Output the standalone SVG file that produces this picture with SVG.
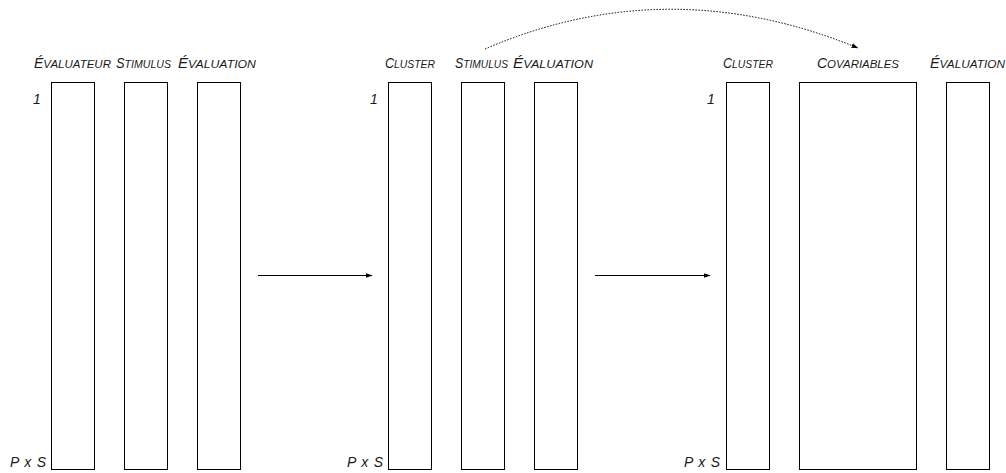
<svg xmlns="http://www.w3.org/2000/svg" width="1006" height="473" viewBox="0 0 1006 473">
<style>
.col{fill:#fff;stroke:#000;stroke-width:1}
.lbl{font-family:"Liberation Sans",Arial,sans-serif;font-style:italic;font-size:14px;fill:#1a1a1a}
.sc{font-size:11.5px}
.idx{font-family:"Liberation Sans",Arial,sans-serif;font-style:italic;font-size:14px;fill:#1a1a1a}
.arr{fill:none;stroke:#000;stroke-width:1}
.dot{fill:none;stroke:#000;stroke-width:1;stroke-dasharray:1.5 1.5}
</style>
<defs>
<marker id="ah" markerWidth="7" markerHeight="5" refX="6.5" refY="2.5" orient="auto" markerUnits="userSpaceOnUse">
<path d="M0,0 L7,2.5 L0,5 Z" fill="#000"/>
</marker>
</defs>
<rect width="1006" height="473" fill="#fff"/>
<g id="panel1">
<text class="idx" x="33" y="104">1</text>
<text class="idx" x="10" y="467" textLength="36" lengthAdjust="spacing">P x S</text>
<g id="p1-evaluateur"><rect class="col" x="51.5" y="82.5" width="43" height="387"/><text class="lbl" x="34" y="68" textLength="77" lengthAdjust="spacingAndGlyphs">É<tspan class="sc">VALUATEUR</tspan></text></g>
<g id="p1-stimulus"><rect class="col" x="124.5" y="82.5" width="43" height="387"/><text class="lbl" x="116" y="68" textLength="55" lengthAdjust="spacingAndGlyphs">S<tspan class="sc">TIMULUS</tspan></text></g>
<g id="p1-evaluation"><rect class="col" x="197.5" y="82.5" width="43" height="387"/><text class="lbl" x="178" y="68" textLength="78" lengthAdjust="spacingAndGlyphs">É<tspan class="sc">VALUATION</tspan></text></g>
</g>
<g id="panel2">
<text class="idx" x="370" y="104">1</text>
<text class="idx" x="347" y="467" textLength="36" lengthAdjust="spacing">P x S</text>
<g id="p2-cluster"><rect class="col" x="388.5" y="82.5" width="43" height="387"/><text class="lbl" x="385" y="68" textLength="50" lengthAdjust="spacingAndGlyphs">C<tspan class="sc">LUSTER</tspan></text></g>
<g id="p2-stimulus"><rect class="col" x="461.5" y="82.5" width="43" height="387"/><text class="lbl" x="455" y="68" textLength="53" lengthAdjust="spacingAndGlyphs">S<tspan class="sc">TIMULUS</tspan></text></g>
<g id="p2-evaluation"><rect class="col" x="534.5" y="82.5" width="43" height="387"/><text class="lbl" x="513" y="68" textLength="80" lengthAdjust="spacingAndGlyphs">É<tspan class="sc">VALUATION</tspan></text></g>
</g>
<g id="panel3">
<text class="idx" x="707" y="104">1</text>
<text class="idx" x="684" y="467" textLength="36" lengthAdjust="spacing">P x S</text>
<g id="p3-cluster"><rect class="col" x="726.5" y="82.5" width="43" height="387"/><text class="lbl" x="723" y="68" textLength="50" lengthAdjust="spacingAndGlyphs">C<tspan class="sc">LUSTER</tspan></text></g>
<g id="p3-covariables"><rect class="col" x="799.5" y="82.5" width="117" height="387"/><text class="lbl" x="817" y="68" textLength="82" lengthAdjust="spacingAndGlyphs">C<tspan class="sc">OVARIABLES</tspan></text></g>
<g id="p3-evaluation"><rect class="col" x="946.5" y="82.5" width="43" height="387"/><text class="lbl" x="930" y="68" textLength="75" lengthAdjust="spacingAndGlyphs">É<tspan class="sc">VALUATION</tspan></text></g>
</g>
<g id="connectors">
<line class="arr" x1="258" y1="275.5" x2="372" y2="275.5" marker-end="url(#ah)"/>
<line class="arr" x1="595" y1="275.5" x2="710" y2="275.5" marker-end="url(#ah)"/>
<path class="dot" d="M485,49 Q668,-30 858,48" marker-end="url(#ah)"/>
</g>
</svg>
